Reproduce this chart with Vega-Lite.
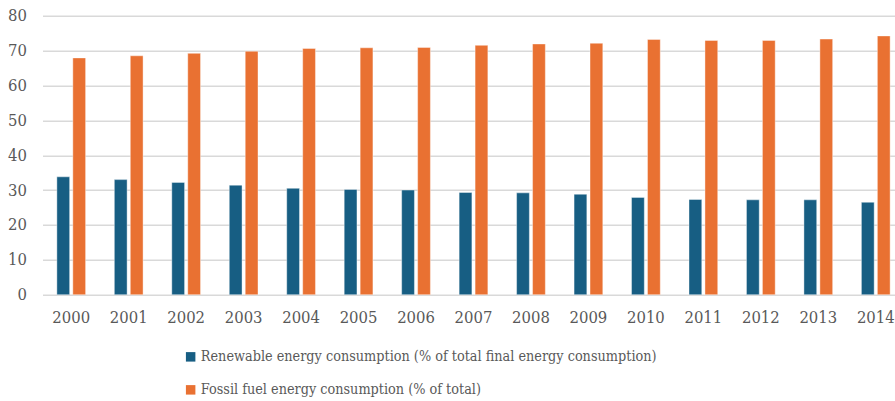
{
  "$schema": "https://vega.github.io/schema/vega-lite/v6.json",
  "autosize": {"type": "none"},
  "padding": {"left": 42.5, "top": 15.7, "right": 0, "bottom": 106.3},
  "width": 852.5,
  "height": 279,
  "background": "white",
  "config": {
    "font": "DejaVu Serif Condensed, DejaVu Serif",
    "view": {"stroke": null},
    "axis": {"labelColor": "#595959", "labelFont": "DejaVu Serif Condensed, DejaVu Serif", "labelFontSize": 16.5}
  },
  "data": {
    "values": [
      {"year": "2000", "series": "Renewable energy consumption (% of total final energy consumption)", "value": 33.8},
      {"year": "2001", "series": "Renewable energy consumption (% of total final energy consumption)", "value": 33.0},
      {"year": "2002", "series": "Renewable energy consumption (% of total final energy consumption)", "value": 32.2},
      {"year": "2003", "series": "Renewable energy consumption (% of total final energy consumption)", "value": 31.4},
      {"year": "2004", "series": "Renewable energy consumption (% of total final energy consumption)", "value": 30.5},
      {"year": "2005", "series": "Renewable energy consumption (% of total final energy consumption)", "value": 30.2},
      {"year": "2006", "series": "Renewable energy consumption (% of total final energy consumption)", "value": 30.0},
      {"year": "2007", "series": "Renewable energy consumption (% of total final energy consumption)", "value": 29.3},
      {"year": "2008", "series": "Renewable energy consumption (% of total final energy consumption)", "value": 29.2},
      {"year": "2009", "series": "Renewable energy consumption (% of total final energy consumption)", "value": 28.8},
      {"year": "2010", "series": "Renewable energy consumption (% of total final energy consumption)", "value": 27.9},
      {"year": "2011", "series": "Renewable energy consumption (% of total final energy consumption)", "value": 27.3},
      {"year": "2012", "series": "Renewable energy consumption (% of total final energy consumption)", "value": 27.2},
      {"year": "2013", "series": "Renewable energy consumption (% of total final energy consumption)", "value": 27.2},
      {"year": "2014", "series": "Renewable energy consumption (% of total final energy consumption)", "value": 26.5},
      {"year": "2000", "series": "Fossil fuel energy consumption (% of total)", "value": 67.9},
      {"year": "2001", "series": "Fossil fuel energy consumption (% of total)", "value": 68.5},
      {"year": "2002", "series": "Fossil fuel energy consumption (% of total)", "value": 69.2},
      {"year": "2003", "series": "Fossil fuel energy consumption (% of total)", "value": 69.8},
      {"year": "2004", "series": "Fossil fuel energy consumption (% of total)", "value": 70.6},
      {"year": "2005", "series": "Fossil fuel energy consumption (% of total)", "value": 70.8},
      {"year": "2006", "series": "Fossil fuel energy consumption (% of total)", "value": 70.9},
      {"year": "2007", "series": "Fossil fuel energy consumption (% of total)", "value": 71.5},
      {"year": "2008", "series": "Fossil fuel energy consumption (% of total)", "value": 71.9},
      {"year": "2009", "series": "Fossil fuel energy consumption (% of total)", "value": 72.1},
      {"year": "2010", "series": "Fossil fuel energy consumption (% of total)", "value": 73.2},
      {"year": "2011", "series": "Fossil fuel energy consumption (% of total)", "value": 72.9},
      {"year": "2012", "series": "Fossil fuel energy consumption (% of total)", "value": 72.9},
      {"year": "2013", "series": "Fossil fuel energy consumption (% of total)", "value": 73.3},
      {"year": "2014", "series": "Fossil fuel energy consumption (% of total)", "value": 74.2}
    ]
  },
  "mark": {"type": "bar", "stroke": "white", "strokeOpacity": 0.5, "strokeWidth": 0.8},
  "encoding": {
    "x": {
      "field": "year", "type": "nominal", "title": null,
      "scale": {"range": [0, 862], "paddingInner": 0.5, "paddingOuter": 0.25},
      "axis": {"labelAngle": 0, "domain": false, "ticks": false, "labelPadding": 15, "labelBaseline": "top"}
    },
    "xOffset": {
      "field": "series", "type": "nominal",
      "sort": ["Renewable energy consumption (% of total final energy consumption)", "Fossil fuel energy consumption (% of total)"],
      "scale": {"paddingInner": 0.2}
    },
    "y": {
      "field": "value", "type": "quantitative", "title": null,
      "scale": {"domain": [0, 80], "nice": false},
      "axis": {"values": [0, 10, 20, 30, 40, 50, 60, 70, 80], "domain": false, "ticks": false, "labelPadding": 16, "gridColor": "#d9d9d9", "gridWidth": 1.5}
    },
    "color": {
      "field": "series", "type": "nominal",
      "sort": ["Renewable energy consumption (% of total final energy consumption)", "Fossil fuel energy consumption (% of total)"],
      "scale": {"range": ["#175e83", "#e97132"]},
      "legend": {
        "title": null, "orient": "none", "direction": "vertical",
        "legendX": 141, "legendY": 334,
        "symbolType": "square", "symbolSize": 90, "symbolStrokeWidth": 0,
        "labelFont": "DejaVu Serif Condensed, DejaVu Serif", "labelFontSize": 14.3, "labelColor": "#595959",
        "labelLimit": 700, "rowPadding": 18, "labelOffset": 3
      }
    }
  }
}
